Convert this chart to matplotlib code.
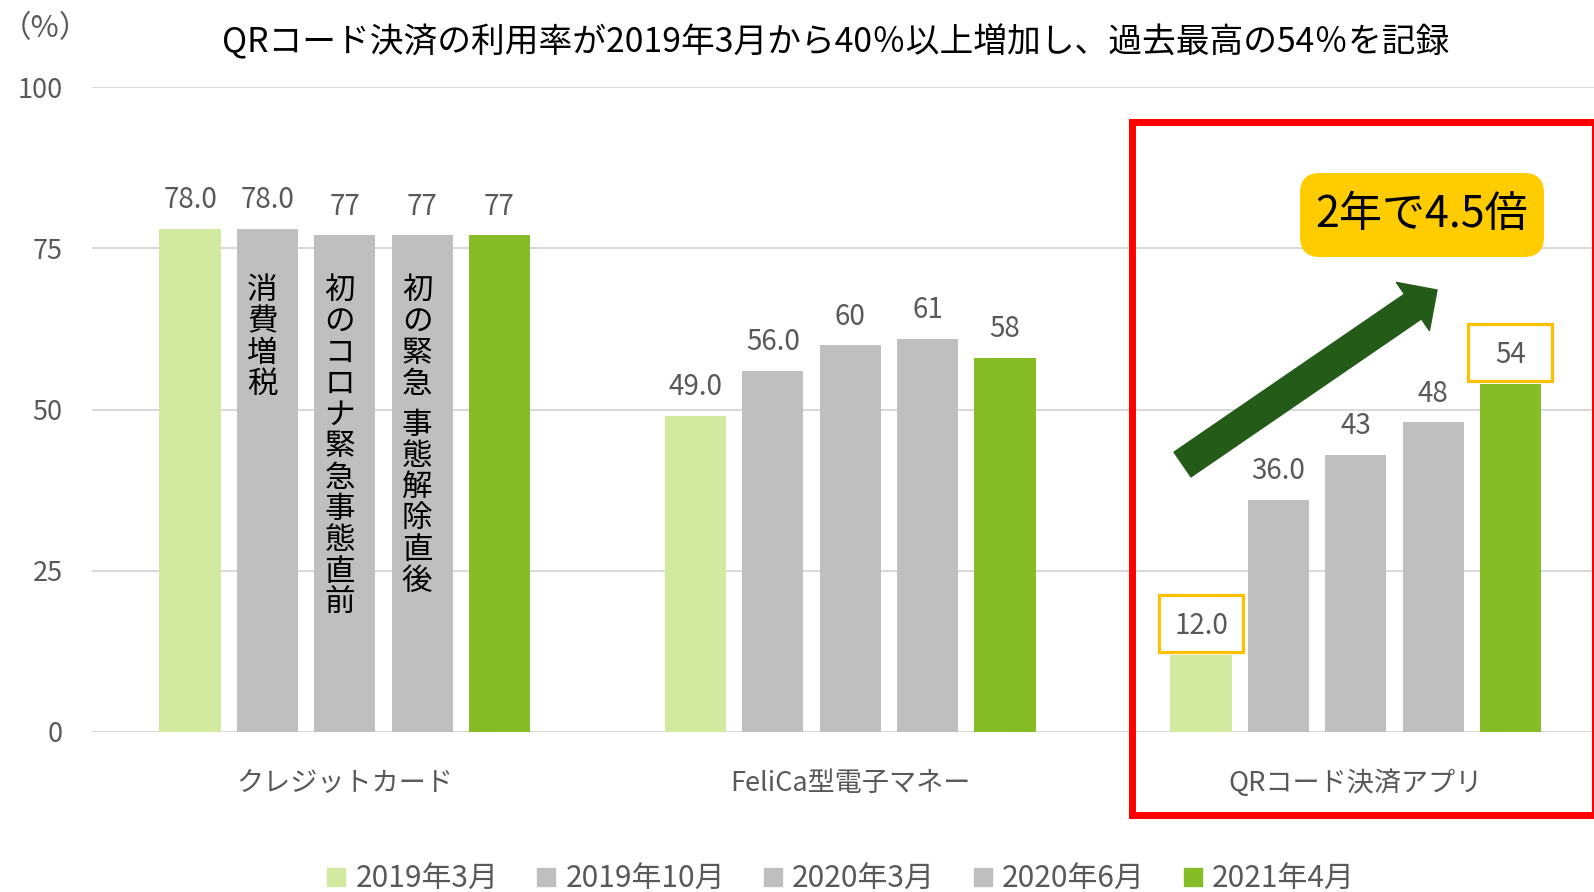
import matplotlib
matplotlib.use("Agg")
import matplotlib.pyplot as plt
import numpy as np
from matplotlib.patches import Rectangle, FancyBboxPatch, FancyArrowPatch
from matplotlib.lines import Line2D
from matplotlib.transforms import IdentityTransform

plt.rcParams['font.family'] = ['Noto Sans CJK JP', 'DejaVu Sans']

# data
categories = ["クレジットカード", "FeliCa型電子マネー", "QRコード決済アプリ"]
periods = ["2019年3月", "2019年10月", "2020年3月", "2020年6月", "2021年4月"]
v_2019_03 = [78, 49, 12]
v_2019_10 = [78, 56, 36]
v_2020_03 = [77, 60, 43]
v_2020_06 = [77, 61, 48]
v_2021_04 = [77, 58, 54]
label_2019_03 = ["78.0", "49.0", "12.0"]
label_2019_10 = ["78.0", "56.0", "36.0"]
label_2020_03 = ["77", "60", "43"]
label_2020_06 = ["77", "61", "48"]
label_2021_04 = ["77", "58", "54"]
notes = ["", "消費増税", "初のコロナ緊急事態直前", "初の緊急 事態解除直後", ""]
yticks = [0, 25, 50, 75, 100]

series = [v_2019_03, v_2019_10, v_2020_03, v_2020_06, v_2021_04]
labels = [label_2019_03, label_2019_10, label_2020_03, label_2020_06, label_2021_04]
colors = ["#D2EAA0", "#BFBFBF", "#BFBFBF", "#BFBFBF", "#86BC25"]
gray_txt = "#595959"

W, H = 1594, 892
fig = plt.figure(figsize=(W / 100, H / 100), dpi=100)
ax = fig.add_axes([92 / W, (H - 732) / H, 3 * 505.5 / W, (732 - 87) / H])

x = np.arange(len(categories))
slot = 0.153
bw = 0.121
for i, (vals, labs, c) in enumerate(zip(series, labels, colors)):
    xs = x + (i - 2) * slot
    ax.bar(xs, vals, width=bw, color=c, zorder=2)
    for xx, v, t in zip(xs, vals, labs):
        ax.annotate(t, (xx, v), xytext=(0, 20.5), textcoords="offset points",
                    ha="center", va="center", fontsize=20, color=gray_txt, zorder=4)

# vertical notes inside credit card bars
step = 31.3 / 6.45
for i, note in enumerate(notes):
    if not note:
        continue
    xx = x[0] + (i - 2) * slot
    y = (732 - 290.5) / 6.45
    for ch in note:
        if ch == " ":
            y -= step * 0.3
            continue
        ax.text(xx - 0.01, y, ch, ha="center", va="center", fontsize=22, color="black", zorder=4)
        y -= step

# orange boxes around first/last QR labels
for i in [0, 4]:
    xx = x[2] + (i - 2) * slot
    v = series[i][2]
    ax.add_patch(Rectangle((xx - 0.083, v + 0.4), 0.166, 8.9, fill=False,
                           edgecolor="#FFC000", lw=2.3, zorder=3))

ax.set_xlim(-0.5, 2.5)
ax.set_ylim(0, 100)
ax.set_yticks(yticks)
ax.set_yticklabels([str(t) for t in yticks])
ax.set_xticks(x)
ax.set_xticklabels(categories)
ax.tick_params(axis="y", length=0, pad=21, labelsize=19.5, labelcolor=gray_txt)
ax.tick_params(axis="x", length=0, pad=27, labelsize=19.5, labelcolor=gray_txt)
ax.yaxis.grid(True, color="#D9D9D9", lw=1.5)
ax.set_axisbelow(True)
for s in ax.spines.values():
    s.set_visible(False)

fig.text(836 / W, 1 - 43 / H, "QRコード決済の利用率が2019年3月から40％以上増加し、過去最高の54％を記録",
         ha="center", va="center", fontsize=24.3, color="black")
fig.text(45 / W, 1 - 29 / H, "（%）", ha="center", va="center", fontsize=22, color=gray_txt)

# red highlight box (pixel coords)
fig.patches.append(Rectangle((1131.5, H - 814.5), 1595 - 1131.5, 814.5 - 122, fill=False,
                             edgecolor="#FF0000", lw=5.0, transform=IdentityTransform(),
                             figure=fig, zorder=5))

# growth arrow
fig.patches.append(FancyArrowPatch((1182.5, H - 464.5), (1437, H - 290),
                                   arrowstyle="simple,head_length=21,head_width=42,tail_width=21.6",
                                   mutation_scale=1, shrinkA=0, shrinkB=0,
                                   color="#245B19", transform=IdentityTransform(),
                                   figure=fig, zorder=6))

# yellow callout
fig.patches.append(FancyBboxPatch((1300, H - 257), 244, 84,
                                  boxstyle="round,pad=0,rounding_size=20",
                                  facecolor="#FFCC00", edgecolor="none",
                                  transform=IdentityTransform(), figure=fig, zorder=6))
fig.text(1422 / W, 1 - 215 / H, "2年で4.5倍", ha="center", va="center",
         fontsize=31, color="black", zorder=7)

handles = [Line2D([], [], marker="s", linestyle="none", markersize=13,
                  markerfacecolor=c, markeredgecolor=c) for c in colors]
fig.legend(handles, periods, loc="center", bbox_to_anchor=(841 / W, 13 / H), ncol=5,
           frameon=False, fontsize=21.5, labelcolor=gray_txt, handlelength=0.6,
           handletextpad=0.35, columnspacing=1.3, borderpad=0)

fig.savefig("out.png", dpi=100)
